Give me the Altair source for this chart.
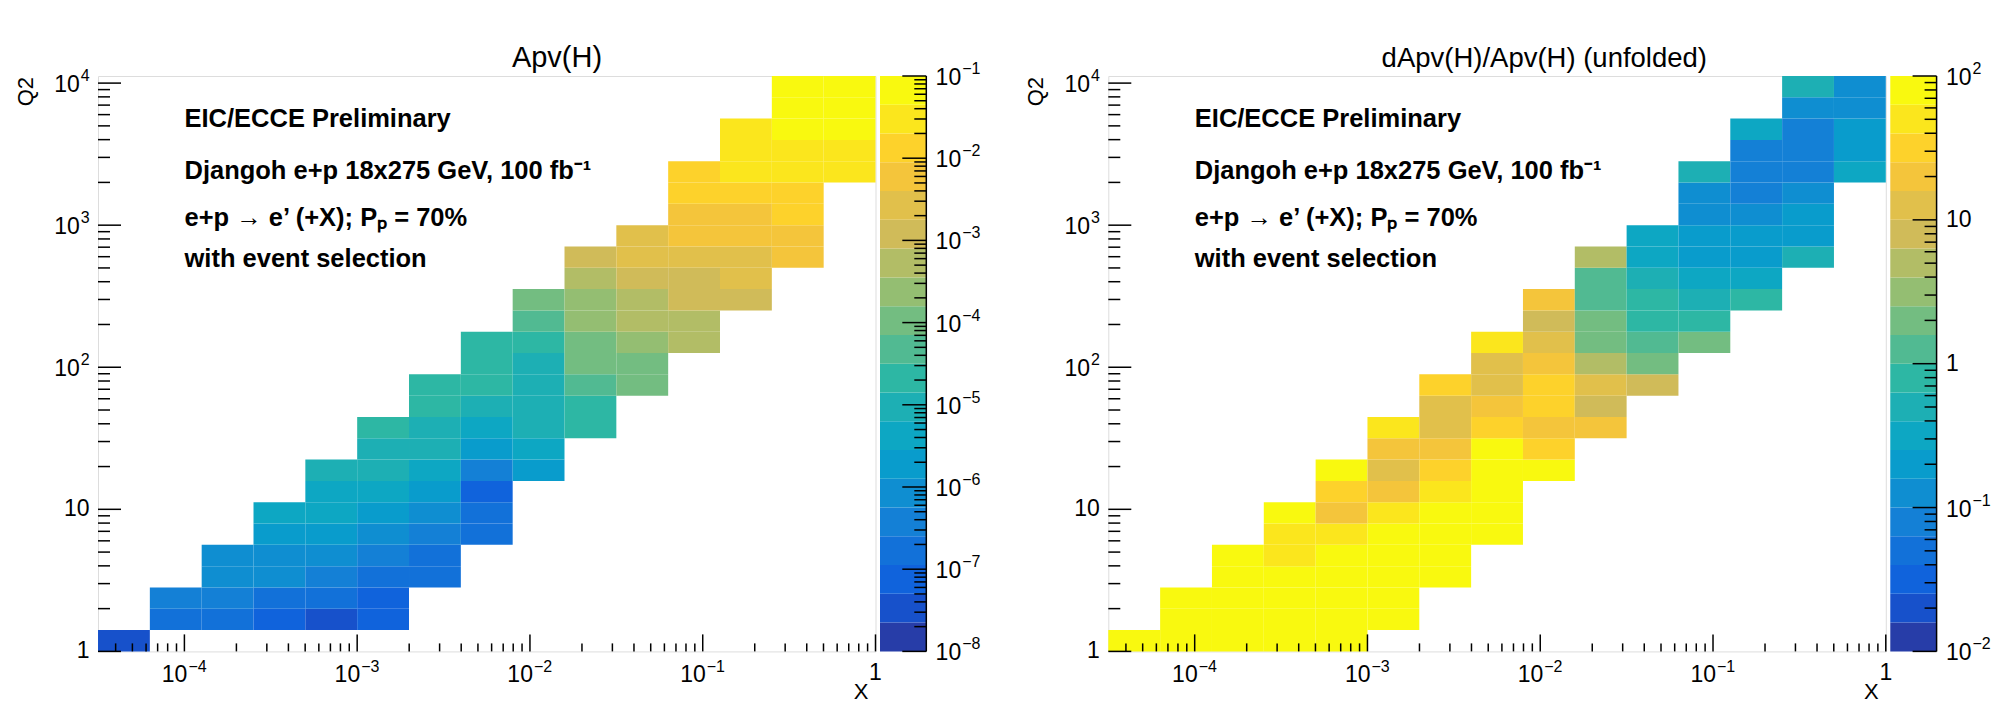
import math
import altair as alt
import pandas as pd

# ---------------- histogram binning (15 x-bins of 0.3 dec, 27 Q2-bins of 0.15 dec)
X_EDGES = [10 ** (-4.5 + 0.3 * i) for i in range(16)]
Q2_EDGES = [10 ** (0.15 * j) for j in range(28)]

# ---------------- Apv(H): (Q2 row, first x bin, cell values)
APV_ROWS = [
    (0, 0, [3.3e-8]),
    (1, 1, [1.7e-7, 1.7e-7, 7.5e-8, 3.3e-8, 7.5e-8]),
    (2, 1, [3.8e-7, 3.8e-7, 1.7e-7, 1.7e-7, 7.5e-8]),
    (3, 2, [8.4e-7, 8.4e-7, 3.8e-7, 1.7e-7, 1.7e-7]),
    (4, 2, [8.4e-7, 8.4e-7, 8.4e-7, 3.8e-7, 1.7e-7]),
    (5, 3, [1.9e-6, 1.9e-6, 8.4e-7, 3.8e-7, 1.7e-7]),
    (6, 3, [4.2e-6, 4.2e-6, 1.9e-6, 8.4e-7, 1.7e-7]),
    (7, 4, [4.2e-6, 4.2e-6, 1.9e-6, 7.5e-8]),
    (8, 4, [9.4e-6, 9.4e-6, 4.2e-6, 3.8e-7, 1.9e-6]),
    (9, 5, [9.4e-6, 9.4e-6, 1.9e-6, 4.2e-6]),
    (10, 5, [2.1e-5, 9.4e-6, 4.2e-6, 9.4e-6, 2.1e-5]),
    (11, 6, [2.1e-5, 9.4e-6, 9.4e-6, 2.1e-5]),
    (12, 6, [2.1e-5, 2.1e-5, 9.4e-6, 4.7e-5, 1.1e-4]),
    (13, 7, [2.1e-5, 9.4e-6, 1.1e-4, 1.1e-4]),
    (14, 7, [2.1e-5, 2.1e-5, 1.1e-4, 2.4e-4, 5.3e-4]),
    (15, 8, [4.7e-5, 2.4e-4, 5.3e-4, 5.3e-4]),
    (16, 8, [1.1e-4, 2.4e-4, 5.3e-4, 1.2e-3, 1.2e-3]),
    (17, 9, [5.3e-4, 1.2e-3, 1.2e-3, 2.7e-3]),
    (18, 9, [1.2e-3, 2.7e-3, 2.7e-3, 2.7e-3, 6.0e-3]),
    (19, 10, [2.7e-3, 6.0e-3, 6.0e-3, 6.0e-3]),
    (20, 11, [6.0e-3, 6.0e-3, 1.3e-2]),
    (21, 11, [1.3e-2, 1.3e-2, 1.3e-2]),
    (22, 11, [1.3e-2, 3.0e-2, 3.0e-2, 3.0e-2]),
    (23, 12, [3.0e-2, 3.0e-2, 3.0e-2]),
    (24, 12, [3.0e-2, 6.7e-2, 6.7e-2]),
    (25, 13, [6.7e-2, 6.7e-2]),
    (26, 13, [6.7e-2, 6.7e-2]),
]

# ---------------- dApv(H)/Apv(H): (Q2 row, first x bin, cell values)
DAPV_ROWS = [
    (0, 0, [79, 79, 79, 79, 79]),
    (1, 1, [79, 79, 79, 79, 79]),
    (2, 1, [79, 79, 79, 79, 79]),
    (3, 2, [79, 79, 79, 79, 79]),
    (4, 2, [79, 50, 79, 79, 79]),
    (5, 3, [50, 50, 79, 79, 79]),
    (6, 3, [79, 20, 50, 79, 79]),
    (7, 4, [32, 20, 50, 79]),
    (8, 4, [79, 12.6, 32, 79, 79]),
    (9, 5, [20, 20, 79, 32]),
    (10, 5, [50, 12.6, 32, 20, 20]),
    (11, 6, [12.6, 20, 32, 7.9]),
    (12, 6, [32, 12.6, 32, 12.6, 7.9]),
    (13, 7, [12.6, 20, 5.0, 2.0]),
    (14, 7, [50, 12.6, 2.0, 1.26, 2.0]),
    (15, 8, [7.9, 2.0, 0.79, 0.79]),
    (16, 8, [20, 1.26, 0.79, 0.5, 0.79]),
    (17, 9, [1.26, 0.5, 0.32, 0.32]),
    (18, 9, [5.0, 0.32, 0.2, 0.2, 0.5]),
    (19, 10, [0.32, 0.2, 0.2, 0.2]),
    (20, 11, [0.126, 0.126, 0.2]),
    (21, 11, [0.126, 0.079, 0.126]),
    (22, 11, [0.5, 0.079, 0.079, 0.32]),
    (23, 12, [0.079, 0.079, 0.2]),
    (24, 12, [0.32, 0.079, 0.2]),
    (25, 13, [0.126, 0.126]),
    (26, 13, [0.5, 0.126]),
]

TITLES = ["Apv(H)", "dApv(H)/Apv(H) (unfolded)"]
X_TITLE = "X"
Y_TITLE = "Q2"
# tick labels as (base, exponent)
X_TICKS = [1e-4, 1e-3, 1e-2, 1e-1, 1]
X_TICK_LABELS = [("10", "−4"), ("10", "−3"), ("10", "−2"), ("10", "−1"), ("1", "")]
Y_TICKS = [1, 10, 100, 1000, 10000]
Y_TICK_LABELS = [("1", ""), ("10", ""), ("10", "2"), ("10", "3"), ("10", "4")]
Z1_RANGE = [1e-8, 1e-1]
Z1_TICKS = [1e-8, 1e-7, 1e-6, 1e-5, 1e-4, 1e-3, 1e-2, 1e-1]
Z1_LABELS = [("10", "−8"), ("10", "−7"), ("10", "−6"), ("10", "−5"),
             ("10", "−4"), ("10", "−3"), ("10", "−2"), ("10", "−1")]
Z2_RANGE = [1e-2, 1e2]
Z2_TICKS = [1e-2, 1e-1, 1, 10, 100]
Z2_LABELS = [("10", "−2"), ("10", "−1"), ("1", ""), ("10", ""), ("10", "2")]
ANNOT = [
    "EIC/ECCE Preliminary",
    "Djangoh e+p 18x275 GeV, 100 fb⁻¹",
    "e+p  → e’ (+X);  Pₚ = 70%",
    "with event selection",
]

# ---------------- style / layout
W, H = 777.5, 575.4
CB_X0, CB_X1 = 782.0, 828.3
FONT = "Liberation Sans"
N_COLORS = 20
TITLE_X = [459, 436]
TITLE_SIZE = [29, 27.5]
FB, FE = 23, 16          # label base / exponent font sizes
BASE_W = 2 * 0.556 * FB  # width of "10"


def kbird(n):
    stops = [0.0, 0.125, 0.25, 0.375, 0.5, 0.625, 0.75, 0.875, 1.0]
    R = [0.2082, 0.0592, 0.0780, 0.0232, 0.1802, 0.5301, 0.8186, 0.9956, 0.9764]
    G = [0.1664, 0.3599, 0.5041, 0.6419, 0.7178, 0.7492, 0.7328, 0.7862, 0.9832]
    B = [0.5293, 0.8684, 0.8385, 0.7914, 0.6425, 0.4662, 0.3499, 0.1968, 0.0539]
    out = []
    for i in range(n):
        p = int((i + 0.99) * 255 / n) / 255
        s = 1
        while s < len(stops) - 1 and p > stops[s]:
            s += 1
        t = (p - stops[s - 1]) / (stops[s] - stops[s - 1])
        rgb = [c[s - 1] + t * (c[s] - c[s - 1]) for c in (R, G, B)]
        out.append("#%02x%02x%02x" % tuple(int(round(255 * v)) for v in rgb))
    return out


COLORS = kbird(N_COLORS)


def minors(lo, hi):
    out = []
    for e in range(-9, 5):
        for m in range(2, 10):
            v = m * 10.0 ** e
            if lo < v < hi:
                out.append(v)
    return out


def cells(rows):
    rec = []
    for j, i0, vals in rows:
        for k, v in enumerate(vals):
            i = i0 + k
            rec.append({"x0": X_EDGES[i], "x1": X_EDGES[i + 1],
                        "y0": Q2_EDGES[j], "y1": Q2_EDGES[j + 1], "v": v})
    return pd.DataFrame(rec)


def label_frames(ticks, labels):
    df = pd.DataFrame({"t": ticks, "b": [l[0] for l in labels], "e": [l[1] for l in labels]})
    return df[df.e == ""], df[df.e != ""]


def txt(s, x, y, **kw):
    opts = dict(font=FONT, color="black", fontSize=22)
    opts.update(kw)
    return alt.Chart(pd.DataFrame({"a": [0]})).mark_text(**opts).encode(
        x=alt.value(x), y=alt.value(y), text=alt.value(s))


def tlayer(df, pos_channel, other, field, **kw):
    opts = dict(font=FONT, color="black", fontSize=FB)
    opts.update(kw)
    enc = {pos_channel[0]: pos_channel[1], other[0]: other[1], "text": field}
    return alt.Chart(df).mark_text(**opts).encode(**enc)


def panel(rows, title, title_x, title_size, zrange, zticks, zlabels, anchor=False):
    xs = alt.Scale(type="log", domain=[X_EDGES[0], X_EDGES[-1]], nice=False)
    ys = alt.Scale(type="log", domain=[Q2_EDGES[0], Q2_EDGES[-1]], nice=False)
    zs = alt.Scale(type="log", domain=zrange, nice=False)
    l0, l1 = math.log10(zrange[0]), math.log10(zrange[1])
    step = (l1 - l0) / N_COLORS
    thr = [10 ** (l0 + step * k) for k in range(1, N_COLORS)]

    heat = alt.Chart(cells(rows)).mark_rect().encode(
        x=alt.X("x0:Q", scale=xs, axis=None),
        x2="x1:Q",
        y=alt.Y("y0:Q", scale=ys, axis=None),
        y2="y1:Q",
        color=alt.Color("v:Q", scale=alt.Scale(type="threshold", domain=thr, range=COLORS),
                        legend=None),
    )

    def xtick(vals, ln):
        return alt.Chart(pd.DataFrame({"t": vals})).mark_rule(
            color="black", strokeWidth=1.5).encode(
            x=alt.X("t:Q", scale=xs, axis=None), y=alt.value(H), y2=alt.value(H - ln))

    def ytick(vals, ln):
        return alt.Chart(pd.DataFrame({"t": vals})).mark_rule(
            color="black", strokeWidth=1.5).encode(
            y=alt.Y("t:Q", scale=ys, axis=None), x=alt.value(0), x2=alt.value(ln))

    # x tick labels
    xp, xe = label_frames(X_TICKS, X_TICK_LABELS)
    XT = alt.X("t:Q", scale=xs, axis=None)
    xl = [
        tlayer(xp, ("x", XT), ("y", alt.value(H + 29)), "b:N",
               align="center", baseline="alphabetic"),
        tlayer(xe, ("x", XT), ("y", alt.value(H + 31)), "b:N",
               align="right", baseline="alphabetic", dx=3),
        tlayer(xe, ("x", XT), ("y", alt.value(H + 21)), "e:N",
               align="left", baseline="alphabetic", dx=4, fontSize=FE),
    ]
    # y tick labels
    yp, ye = label_frames(Y_TICKS, Y_TICK_LABELS)
    YT = alt.Y("t:Q", scale=ys, axis=None)
    yl = [
        tlayer(yp, ("y", YT), ("x", alt.value(-8.4)), "b:N",
               align="right", baseline="middle"),
        tlayer(ye, ("y", YT), ("x", alt.value(-8.4 - 0.556 * FE - 1)), "b:N",
               align="right", baseline="middle", dy=2),
        tlayer(ye, ("y", YT), ("x", alt.value(-8.4)), "e:N",
               align="right", baseline="middle", dy=-7, fontSize=FE),
    ]

    texts = []
    for line, yy in zip(ANNOT, [51, 103, 150, 191]):
        texts.append(txt(line, 86.5, yy, align="left", baseline="alphabetic",
                         fontWeight="bold", fontSize=25.5))
    texts.append(txt(title, title_x, -9, align="center", baseline="alphabetic",
                     fontSize=title_size))
    texts.append(txt(X_TITLE, W - 7, H + 47.5, align="right", baseline="alphabetic"))
    texts.append(txt(Y_TITLE, -72, 1, align="right", baseline="middle", angle=270))

    parts = [heat,
             xtick(minors(X_EDGES[0], X_EDGES[-1]), 8), xtick(X_TICKS, 17),
             ytick(minors(Q2_EDGES[0], Q2_EDGES[-1]), 12), ytick(Y_TICKS, 23)] + xl + yl + texts
    if anchor:
        parts.append(alt.Chart(pd.DataFrame({"a": [0]})).mark_rect(opacity=0).encode(
            x=alt.value(-97.5), x2=alt.value(-92), y=alt.value(-75.3), y2=alt.value(-70)))
    main = alt.layer(*parts)

    # colour bar
    bands = pd.DataFrame({
        "lo": [10 ** (l0 + step * k) for k in range(N_COLORS)],
        "hi": [10 ** (l0 + step * (k + 1)) for k in range(N_COLORS)],
        "col": COLORS,
    })
    cb = alt.Chart(bands).mark_rect().encode(
        x=alt.value(CB_X0), x2=alt.value(CB_X1),
        y=alt.Y("lo:Q", scale=zs, axis=None), y2="hi:Q",
        color=alt.Color("col:N", scale=None),
    )

    def ztick(vals, ln):
        return alt.Chart(pd.DataFrame({"t": vals})).mark_rule(
            color="black", strokeWidth=1.5).encode(
            y=alt.Y("t:Q", scale=zs, axis=None), x=alt.value(CB_X1 - ln), x2=alt.value(CB_X1))

    zedge = alt.Chart(pd.DataFrame({"a": [0]})).mark_rule(
        color="black", strokeWidth=1.5).encode(
        x=alt.value(CB_X1), y=alt.value(0), y2=alt.value(H))
    zp, ze = label_frames(zticks, zlabels)
    ZT = alt.Y("t:Q", scale=zs, axis=None)
    zx = CB_X1 + 9.3
    zl = [
        tlayer(zp, ("y", ZT), ("x", alt.value(zx)), "b:N", align="left", baseline="middle"),
        tlayer(ze, ("y", ZT), ("x", alt.value(zx)), "b:N", align="left", baseline="middle",
               dy=2),
        tlayer(ze, ("y", ZT), ("x", alt.value(zx + BASE_W + 1)), "e:N", align="left",
               baseline="middle", dy=-7, fontSize=FE),
    ]

    cbar = alt.layer(cb, ztick(minors(zrange[0], zrange[1]), 12), ztick(zticks, 24),
                     zedge, *zl)
    return alt.layer(main, cbar).resolve_scale(y="independent").properties(width=W, height=H)


left = panel(APV_ROWS, TITLES[0], TITLE_X[0], TITLE_SIZE[0], Z1_RANGE, Z1_TICKS, Z1_LABELS,
             anchor=True)
right = panel(DAPV_ROWS, TITLES[1], TITLE_X[1], TITLE_SIZE[1], Z2_RANGE, Z2_TICKS, Z2_LABELS)

chart = alt.hconcat(left, right, spacing=232.3, bounds="flush").resolve_scale(
    x="independent", y="independent", color="independent"
).properties(padding=0, background="white").configure_view(
    stroke="black", strokeWidth=1.5
).configure(font=FONT)

chart.save("out.html", embed_options={"renderer": "svg", "actions": False})
